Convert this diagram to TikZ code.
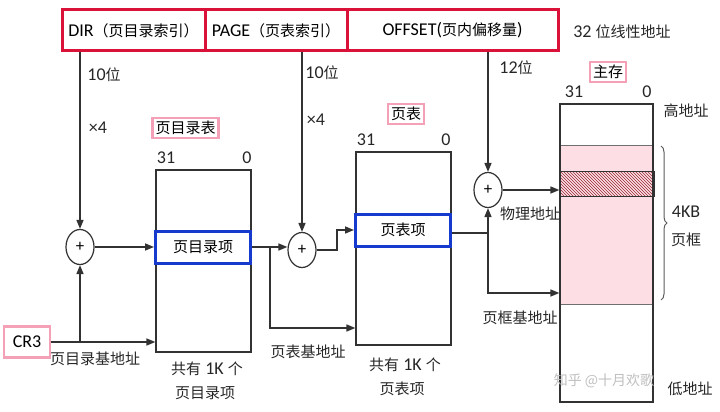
\documentclass[tikz,border=0pt]{standalone}
\usepackage{fontspec}
\setmainfont{Carlito}[Scale=1.2]
\newfontfamily\cjk{Noto Sans CJK SC}
\newcommand\zh[1]{{\cjk #1}}
\usetikzlibrary{shapes.geometric,arrows.meta,patterns,decorations.pathreplacing}
\definecolor{cred}{RGB}{218,18,58}
\definecolor{cpink}{RGB}{244,160,182}
\definecolor{cblue}{RGB}{22,58,205}
\definecolor{cfill}{RGB}{253,222,228}
\definecolor{chatch}{RGB}{150,40,50}
\definecolor{cline}{RGB}{50,50,50}
\tikzset{
  txt/.style={font=\fontsize{15}{18}\selectfont, text=black!85, inner sep=1pt},
  fieldbox/.style={draw=cred, line width=3pt, minimum height=41pt, inner sep=0pt, font=\fontsize{15}{18}\selectfont},
  pinkbox/.style={draw=cpink, line width=2.5pt, inner sep=3pt, font=\fontsize{15}{18}\selectfont},
  tablebox/.style={draw=cline, line width=1.2pt, inner sep=0pt},
  entrybox/.style={draw=cblue, line width=3pt, minimum width=95pt, minimum height=32pt, inner sep=0pt, fill=white, font=\fontsize{15}{18}\selectfont},
  adder/.style={ellipse, draw=cline, line width=1.2pt, minimum width=28pt, minimum height=35pt, inner sep=0pt, fill=white, font=\fontsize{14}{14}\selectfont},
  conn/.style={draw=cline, line width=1.5pt},
  arr/.style={conn, -{Triangle[length=9pt,width=7pt]}},
}
\begin{document}
\begin{tikzpicture}[x=1pt,y=-1pt]
\useasboundingbox (0,0) rectangle (720,412);
% top fields
\node[fieldbox, minimum width=143pt] (dir) at (133.5,30.5) {DIR\zh{（页目录索引）}};
\node[fieldbox, minimum width=142pt] (page) at (276,30.5) {PAGE\zh{（页表索引）}};
\node[fieldbox, minimum width=211pt] (off) at (452.5,30.5) {OFFSET(\zh{页内偏移量})};
\node[txt] (lin) at (622,32) {32 \zh{位线性地址}};
% tables
\node[tablebox, minimum width=95pt, minimum height=182pt] (pdt) at (203.5,261) {};
\node[tablebox, minimum width=95pt, minimum height=193pt] (pt) at (403.5,248.5) {};
% memory
\fill[cfill] (560,145) rectangle (653,304);
\fill[cfill] (560,171) rectangle (654,196);
\fill[pattern=north west lines, pattern color=chatch] (560,171) rectangle (654,196);
\draw[cline, line width=1pt] (560,171) rectangle (654,196);
\draw[cline!70, line width=1pt] (560,145) -- (653,145);
\draw[cline!70, line width=1pt] (560,304) -- (653,304);
\node[tablebox, minimum width=93pt, minimum height=298pt] (mem) at (606.5,253) {};
% entries
\node[entrybox] (pde) at (203,247) {\zh{页目录项}};
\node[entrybox] (pte) at (403,230) {\zh{页表项}};
% adders
\node[adder] (add1) at (80,247) {+};
\node[adder] (add2) at (302,250) {+};
\node[adder] (add3) at (488,190) {+};
% CR3
\node[pinkbox, minimum width=46pt, minimum height=31pt, inner sep=0pt] (cr3) at (27,342) {CR3};
% pink labels
\node[pinkbox] (lpdt) at (185.5,128) {\zh{页目录表}};
\node[pinkbox] (lpt) at (406,114) {\zh{页表}};
\node[pinkbox] (lmem) at (608,72) {\zh{主存}};
% bit labels
\node[txt] (b31a) at (166,158) {31};
\node[txt] (b0a) at (247,158) {0};
\node[txt] (b31b) at (366,140) {31};
\node[txt] (b0b) at (446,140) {0};
\node[txt] (b31c) at (574,92) {31};
\node[txt] (b0c) at (647,92) {0};
% side labels
\node[txt] (l10a) at (104,75) {10\zh{位}};
\node[txt] (lx4a) at (98,128) {×4};
\node[txt] (l10b) at (322,73) {10\zh{位}};
\node[txt] (lx4b) at (316,120) {×4};
\node[txt] (l12) at (516,68) {12\zh{位}};
\node[txt] (lpdb) at (95,359) {\zh{页目录基地址}};
\node[txt] (lpdn1) at (207,369) {\zh{共有} 1K \zh{个}};
\node[txt] (lpdn2) at (205,393) {\zh{页目录项}};
\node[txt] (lptb) at (308,352) {\zh{页表基地址}};
\node[txt] (lptn1) at (405,365) {\zh{共有} 1K \zh{个}};
\node[txt] (lptn2) at (402,389) {\zh{页表项}};
\node[txt] (lphy) at (530,214) {\zh{物理地址}};
\node[txt] (lfb) at (520,318) {\zh{页框基地址}};
\node[txt] (lhi) at (686,111) {\zh{高地址}};
\node[txt] (llo) at (690,389) {\zh{低地址}};
\node[txt] (l4kb) at (686,212) {4KB};
\node[txt] (lfr) at (686,240) {\zh{页框}};
\node[txt, text=black!25, font=\fontsize{14}{16}\selectfont] (wm) at (604,381) {\zh{知乎 @十月欢歌}};
% brace
\draw[cline!80, line width=1pt, decorate, decoration={brace, amplitude=6pt}] (661,146) -- (661,300);
% connectors
\draw[arr] (dir.south -| add1) -- (add1.north);
\draw[arr] (page.south -| add2) -- (add2.north);
\draw[arr] (off.south -| add3) -- (add3.north);
\draw[arr] (add1.east) -- (pde.west |- add1);
\draw[arr] (cr3.east) -- (cr3.east -| pdt.west);
\draw[arr] (cr3.east -| add1) -- (add1.south);
\draw[arr] (pde.east) -- (add2.west |- pde.east);
\coordinate (br1) at (270,247);
\coordinate (br2) at (270,328);
\draw[arr] (br1) -- (br2) -- (br2 -| pt.west);
\coordinate (j1) at (337,250);
\coordinate (j2) at (337,230);
\draw[arr] (add2.east |- j1) -- (j1) -- (j2) -- (pte.west |- j2);
\coordinate (j3) at (488,233);
\coordinate (fb) at (488,293);
\draw[conn] (pte.east |- j3) -- (j3);
\draw[arr] (j3) -- (add3.south);
\draw[arr] (j3) -- (fb) -- (fb -| mem.west);
\draw[arr] (add3.east) -- (add3.east -| mem.west);
\end{tikzpicture}
\end{document}
